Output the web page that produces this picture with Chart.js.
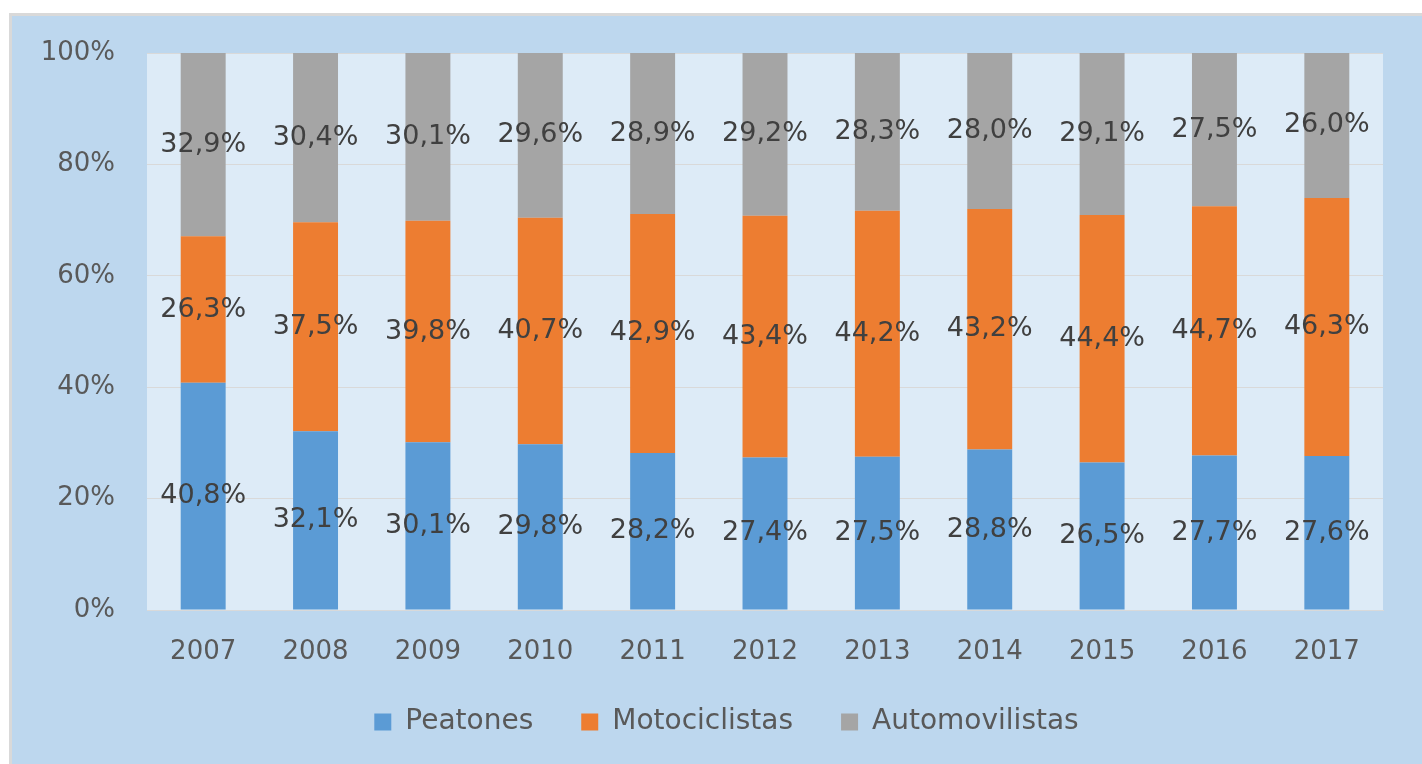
<!DOCTYPE html>
<html lang="es">
<head>
    <meta charset="UTF-8">
    <title>Peatones, Motociclistas, Automovilistas</title>
    <script src="https://cdn.jsdelivr.net/npm/chart.js"></script>
    <style>
        html, body { margin: 0; padding: 0; background: #ffffff; }
        #wrap { width: 1422px; height: 764px; position: relative; }
    </style>
</head>
<body>
<div id="wrap"><canvas id="chart"></canvas></div>
<script>
    const years = ["2007", "2008", "2009", "2010", "2011", "2012", "2013", "2014", "2015", "2016", "2017"];
    const peatones = [40.8, 32.1, 30.1, 29.8, 28.2, 27.4, 27.5, 28.8, 26.5, 27.7, 27.6];
    const motociclistas = [26.3, 37.5, 39.8, 40.7, 42.9, 43.4, 44.2, 43.2, 44.4, 44.7, 46.3];
    const automovilistas = [32.9, 30.4, 30.1, 29.6, 28.9, 29.2, 28.3, 28.0, 29.1, 27.5, 26.0];
    const yTicks = [0, 20, 40, 60, 80, 100];

    // 100% stacked: share of each year's total
    const totals = years.map((y, i) => peatones[i] + motociclistas[i] + automovilistas[i]);
    const share = arr => arr.map((v, i) => v / totals[i] * 100);

    const fmt = v => v.toFixed(1).replace(".", ",") + "%";

    const background = {
        id: "background",
        afterLayout(chart) {
            // legend sits a bit right of centre in the original
            chart.legend.left += 35;
            chart.legend.right += 35;
        },
        beforeDraw(chart) {
            const ctx = chart.ctx;
            const a = chart.chartArea;
            ctx.save();
            ctx.fillStyle = "#ffffff";
            ctx.fillRect(0, 0, chart.width, chart.height);
            ctx.fillStyle = "#d9d9d9";
            ctx.fillRect(9, 13, chart.width, chart.height);
            ctx.fillStyle = "#bdd7ee";
            ctx.fillRect(12, 16, chart.width, chart.height);
            ctx.fillStyle = "#ddebf7";
            ctx.fillRect(a.left, a.top, a.right - a.left, a.bottom - a.top);
            ctx.restore();
        }
    };

    const raw = [peatones, motociclistas, automovilistas];
    const valueLabels = {
        id: "valueLabels",
        afterDatasetsDraw(chart) {
            const ctx = chart.ctx;
            ctx.save();
            ctx.font = "27px 'DejaVu Sans'";
            ctx.fillStyle = "#404040";
            ctx.textAlign = "center";
            ctx.textBaseline = "middle";
            chart.data.datasets.forEach((ds, di) => {
                chart.getDatasetMeta(di).data.forEach((bar, i) => {
                    ctx.fillText(fmt(raw[di][i]), bar.x, (bar.y + bar.base) / 2);
                });
            });
            ctx.restore();
        }
    };

    new Chart(document.getElementById("chart"), {
        type: "bar",
        data: {
            labels: years,
            datasets: [
                { label: "Peatones", data: share(peatones), backgroundColor: "#5b9bd5" },
                { label: "Motociclistas", data: share(motociclistas), backgroundColor: "#ed7d31" },
                { label: "Automovilistas", data: share(automovilistas), backgroundColor: "#a5a5a5" }
            ]
        },
        options: {
            responsive: true,
            maintainAspectRatio: false,
            animation: false,
            barPercentage: 0.4,
            categoryPercentage: 1,
            layout: { padding: { left: 0, top: 53, right: 39, bottom: 18 } },
            plugins: {
                tooltip: { enabled: false },
                legend: {
                    position: "bottom",
                    labels: {
                        font: { family: "'DejaVu Sans'", size: 28 },
                        color: "#595959",
                        boxWidth: 17,
                        boxHeight: 17,
                        padding: 48
                    }
                }
            },
            scales: {
                x: {
                    stacked: true,
                    grid: { display: false, drawTicks: false },
                    border: { color: "#d9d9d9" },
                    ticks: { font: { family: "'DejaVu Sans'", size: 26 }, color: "#595959", padding: 27 },
                    afterFit(scale) { scale.height = 50; }
                },
                y: {
                    stacked: true,
                    min: 0,
                    max: 100,
                    afterBuildTicks(scale) { scale.ticks = yTicks.map(v => ({ value: v })); },
                    grid: { color: "#d9d9d9", drawTicks: false },
                    border: { display: false },
                    ticks: {
                        font: { family: "'DejaVu Sans'", size: 26 },
                        color: "#595959",
                        padding: 32,
                        callback: v => v + "%"
                    },
                    afterFit(scale) { scale.width = 147; }
                }
            }
        },
        plugins: [background, valueLabels]
    });
</script>
</body>
</html>
